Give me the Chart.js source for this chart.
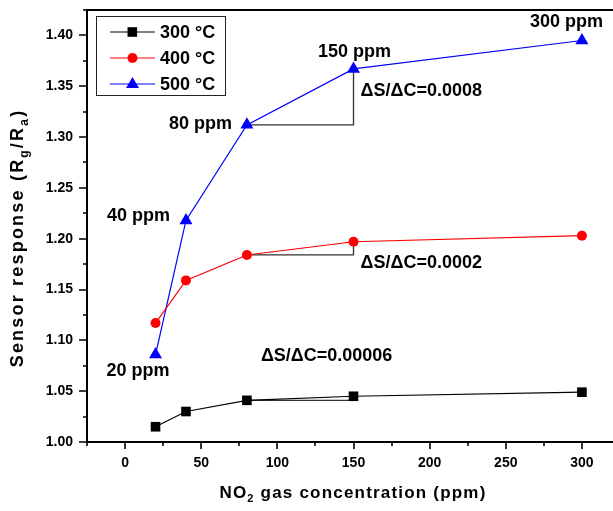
<!DOCTYPE html>
<html><head><meta charset="utf-8">
<script src="https://cdn.jsdelivr.net/npm/chart.js@4/dist/chart.umd.min.js"></script>
<style>html,body{margin:0;padding:0;background:#fff;overflow:hidden}#wrap{width:622px;height:511px}</style>
</head><body><div id="wrap"><canvas id="c" width="622" height="511"></canvas></div>
<script>
// ---- data ----
const concentrations = [20, 40, 80, 150, 300];
const resp300 = [1.015, 1.030, 1.041, 1.045, 1.049];
const resp400 = [1.117, 1.159, 1.184, 1.197, 1.203];
const resp500 = [1.086, 1.218, 1.312, 1.367, 1.395];
const seriesNames = ['300 °C', '400 °C', '500 °C'];
const seriesColors = ['#000000', '#ff0000', '#0000ff'];
const ppmLabels = ['20 ppm', '40 ppm', '80 ppm', '150 ppm', '300 ppm'];
const slopeLabels = ['ΔS/ΔC=0.00006', 'ΔS/ΔC=0.0002', 'ΔS/ΔC=0.0008'];
const xTickValues = [0, 50, 100, 150, 200, 250, 300];
const yTickValues = [1.00, 1.05, 1.10, 1.15, 1.20, 1.25, 1.30, 1.35, 1.40];

const FONT = '"Liberation Sans", Arial, sans-serif';
const pts = (ys) => concentrations.map((x, i) => ({x, y: ys[i]}));
const allSeries = [resp300, resp400, resp500];
const styles = ['rect', 'circle', 'triangle'];
const radii = [6.8, 5, 7.5];

const datasets = allSeries.map((ys, i) => ({
  label: seriesNames[i],
  data: pts(ys),
  showLine: true,
  borderColor: seriesColors[i],
  backgroundColor: seriesColors[i],
  borderWidth: 1.2,
  pointStyle: styles[i],
  pointRadius: radii[i],
  pointBorderWidth: 0,
  pointBackgroundColor: seriesColors[i],
  tension: 0
}));

function isNear(v, list) { return list.some(t => Math.abs(t - v) < 1e-6); }

function drawRich(ctx, parts, cx, cy, size, spacing) {
  ctx.save();
  ctx.letterSpacing = spacing + 'px';
  let total = 0;
  const ws = parts.map(p => {
    ctx.font = 'bold ' + (p.sub ? Math.round(size * 0.65) : size) + 'px ' + FONT;
    const w = ctx.measureText(p.t).width;
    total += w;
    return w;
  });
  let x = cx - total / 2;
  ctx.textBaseline = 'middle';
  ctx.textAlign = 'left';
  ctx.fillStyle = '#000';
  parts.forEach((p, i) => {
    ctx.font = 'bold ' + (p.sub ? Math.round(size * 0.65) : size) + 'px ' + FONT;
    ctx.fillText(p.t, x, cy + (p.sub ? size * 0.35 : 0));
    x += ws[i];
  });
  ctx.restore();
}

const decor = {
  id: 'decor',
  beforeDatasetsDraw(chart) {
    const ctx = chart.ctx, xs = chart.scales.x, ys = chart.scales.y;
    ctx.save();
    ctx.strokeStyle = '#333';
    ctx.lineWidth = 1.3;
    allSeries.forEach(s => {
      const x80 = xs.getPixelForValue(concentrations[2]);
      const x150 = xs.getPixelForValue(concentrations[3]);
      const y80 = ys.getPixelForValue(s[2]);
      const y150 = ys.getPixelForValue(s[3]);
      ctx.beginPath();
      ctx.moveTo(x80, y80);
      ctx.lineTo(x150, y80);
      ctx.lineTo(x150, y150);
      ctx.stroke();
    });
    ctx.restore();
  },
  afterDraw(chart) {
    const ctx = chart.ctx, a = chart.chartArea, xs = chart.scales.x, ys = chart.scales.y;
    ctx.save();
    ctx.strokeStyle = '#000';
    ctx.lineWidth = 2;
    ctx.strokeRect(a.left, a.top, a.right - a.left, a.bottom - a.top);
    ctx.lineWidth = 1.6;
    ctx.beginPath();
    ys.ticks.forEach(t => {
      const y = Math.round(ys.getPixelForValue(t.value));
      const len = isNear(t.value, yTickValues) ? 8 : 4;
      ctx.moveTo(a.left, y); ctx.lineTo(a.left - len, y);
    });
    xs.ticks.forEach(t => {
      const x = Math.round(xs.getPixelForValue(t.value));
      const len = isNear(t.value, xTickValues) ? 7 : 4;
      ctx.moveTo(x, a.bottom); ctx.lineTo(x, a.bottom + len);
    });
    ctx.stroke();

    drawRich(ctx, [{t: 'NO'}, {t: '2', sub: true}, {t: ' gas concentration (ppm)'}],
      353, 493, 17, 1.2);
    ctx.save();
    ctx.translate(18, 238);
    ctx.rotate(-Math.PI / 2);
    drawRich(ctx, [{t: 'Sensor response (R'}, {t: 'g', sub: true}, {t: '/R'}, {t: 'a', sub: true}, {t: ')'}],
      0, 0, 18, 2.2);
    ctx.restore();

    // legend
    ctx.fillStyle = '#fff';
    ctx.fillRect(96, 16, 130, 80);
    ctx.strokeStyle = '#222';
    ctx.lineWidth = 1;
    ctx.strokeRect(96.5, 16.5, 129, 79);
    seriesNames.forEach((name, i) => {
      const y = 32 + i * 26;
      ctx.strokeStyle = seriesColors[i];
      ctx.lineWidth = 1.2;
      ctx.beginPath(); ctx.moveTo(110, y); ctx.lineTo(155, y); ctx.stroke();
      ctx.fillStyle = seriesColors[i];
      ctx.beginPath();
      if (i === 0) ctx.rect(127.5, y - 4.8, 9.6, 9.6);
      else if (i === 1) ctx.arc(132.5, y, 5, 0, Math.PI * 2);
      else { ctx.moveTo(132.5, y - 7); ctx.lineTo(139, y + 4); ctx.lineTo(126, y + 4); ctx.closePath(); }
      ctx.fill();
      ctx.fillStyle = '#000';
      ctx.font = 'bold 18px ' + FONT;
      ctx.textBaseline = 'middle';
      ctx.textAlign = 'left';
      ctx.fillText(name, 160, y + 1);
    });

    ctx.font = 'bold 18px ' + FONT;
    ctx.fillStyle = '#000';
    ctx.textBaseline = 'middle';
    const P = i => ({x: xs.getPixelForValue(concentrations[i]), y: ys.getPixelForValue(resp500[i])});
    let p;
    p = P(0); ctx.textAlign = 'right'; ctx.fillText(ppmLabels[0], p.x + 14, p.y + 16);
    p = P(1); ctx.textAlign = 'right'; ctx.fillText(ppmLabels[1], p.x - 16, p.y - 4);
    p = P(2); ctx.textAlign = 'right'; ctx.fillText(ppmLabels[2], p.x - 15, p.y - 1);
    p = P(3); ctx.textAlign = 'center'; ctx.fillText(ppmLabels[3], p.x + 1, p.y - 17);
    p = P(4); ctx.textAlign = 'center'; ctx.fillText(ppmLabels[4], p.x - 15.5, p.y - 18);

    ctx.textAlign = 'left';
    const x150 = xs.getPixelForValue(concentrations[3]);
    ctx.fillText(slopeLabels[2], x150 + 7, ys.getPixelForValue(resp500[3]) + 22);
    ctx.fillText(slopeLabels[1], x150 + 7, ys.getPixelForValue(resp400[3]) + 21);
    ctx.fillText(slopeLabels[0], xs.getPixelForValue(concentrations[2]) + 14, ys.getPixelForValue(resp300[2]) - 44);
    ctx.restore();
  }
};

new Chart(document.getElementById('c'), {
  type: 'scatter',
  data: {datasets},
  options: {
    responsive: false,
    animation: false,
    layout: {autoPadding: false, padding: {top: 10, right: 2, left: 0, bottom: 0}},
    plugins: {legend: {display: false}, tooltip: {enabled: false}},
    scales: {
      x: {
        type: 'linear', min: -25, max: 325,
        afterFit: s => { s.height = 69; s.paddingLeft = 0; s.paddingRight = 0; },
        grid: {display: true, drawOnChartArea: false, drawTicks: false},
        border: {display: false},
        ticks: {
          stepSize: 25, autoSkip: false, maxRotation: 0, padding: 13,
          color: '#000', font: {family: FONT, size: 14, weight: 'bold'},
          callback: v => isNear(v, xTickValues) ? String(v) : ''
        }
      },
      y: {
        type: 'linear', min: 1.0, max: 1.425,
        afterFit: s => { s.width = 87; s.paddingTop = 0; s.paddingBottom = 0; },
        grid: {display: true, drawOnChartArea: false, drawTicks: false},
        border: {display: false},
        ticks: {
          stepSize: 0.025, autoSkip: false, padding: 14,
          color: '#000', font: {family: FONT, size: 14, weight: 'bold'},
          callback: v => isNear(v, yTickValues) ? v.toFixed(2) : ''
        }
      }
    }
  },
  plugins: [decor]
});
</script>
</body></html>
